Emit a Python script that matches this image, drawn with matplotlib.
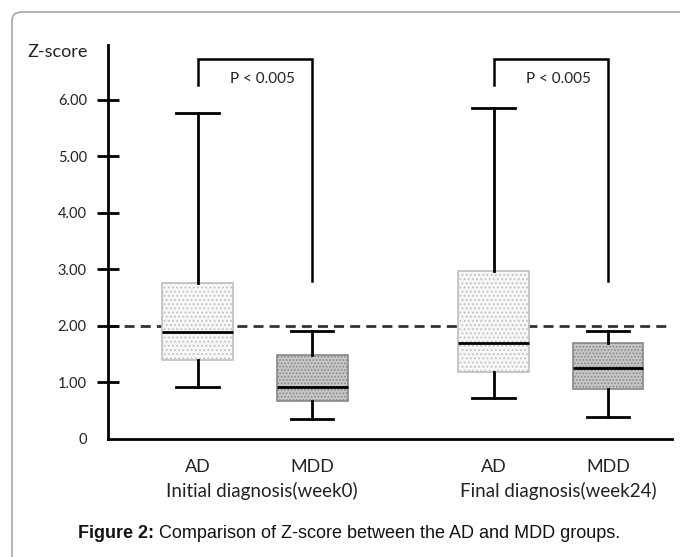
import matplotlib
matplotlib.use("Agg")
import matplotlib.pyplot as plt
from matplotlib.patches import FancyBboxPatch

# ---- data ----
groups = ["AD", "MDD", "AD", "MDD"]
phases = ["Initial diagnosis(week0)", "Final diagnosis(week24)"]
whislo = [0.92, 0.35, 0.72, 0.39]
q1 = [1.40, 0.67, 1.19, 0.88]
med = [1.89, 0.92, 1.70, 1.25]
q3 = [2.76, 1.49, 2.97, 1.70]
whishi = [5.77, 1.91, 5.86, 1.91]
cutoff = 2.0
p_text = "P < 0.005"
bracket_low, bracket_top, bracket_end = 6.27, 6.73, 2.80
ytick_vals = [0, 1, 2, 3, 4, 5, 6]
ytick_labels = ["0", "1.00", "2.00", "3.00", "4.00", "5.00", "6.00"]
caption_bold = "Figure 2:"
caption_rest = " Comparison of Z-score between the AD and MDD groups."

positions = [1.0, 2.0, 3.585, 4.585]
fills = ["#f7f7f7", "#c6c6c6", "#f7f7f7", "#c6c6c6"]
hatch_cols = ["#c0c0c0", "#888888", "#c0c0c0", "#888888"]

font = "Lato"
tcol = "#222222"
plt.rcParams["hatch.linewidth"] = 0.8

fig = plt.figure(figsize=(6.8, 5.57), dpi=100)
ax = fig.add_axes([108/680, 1-439/557, (672-108)/680, (439-45)/557])

stats = []
for i in range(4):
    stats.append(dict(whislo=whislo[i], q1=q1[i], med=med[i], q3=q3[i],
                      whishi=whishi[i], fliers=[], label=groups[i]))

bp = ax.bxp(stats, positions=positions, widths=0.62, patch_artist=True,
            showfliers=False, capwidths=0.37,
            medianprops=dict(color="black", linewidth=2),
            whiskerprops=dict(color="black", linewidth=2),
            capprops=dict(color="black", linewidth=2),
            boxprops=dict(linewidth=1.2))
for i, b in enumerate(bp["boxes"]):
    b.set_facecolor(fills[i])
    b.set_edgecolor(hatch_cols[i])
    b.set_hatch("....." if i % 2 else "....")
    b.set_linewidth(1.2)

# cutoff line
ax.axhline(cutoff, color="#333333", linewidth=2, dashes=(3.6, 2.2), zorder=1)

# significance brackets
for a, m in [(0, 1), (2, 3)]:
    xa, xm = positions[a], positions[m]
    ax.plot([xa, xa, xm, xm], [bracket_low, bracket_top, bracket_top, bracket_end],
            color="black", linewidth=1.8, solid_joinstyle="miter", clip_on=False)
    ax.text((xa + xm) / 2 + 0.07, 6.36, p_text, ha="center", va="center",
            fontsize=11, family=font, color=tcol)

ax.set_xlim(0.218, 5.144)
ax.set_ylim(0, 6.97)

for s in ["top", "right"]:
    ax.spines[s].set_visible(False)
for s in ["left", "bottom"]:
    ax.spines[s].set_linewidth(2)
    ax.spines[s].set_color("black")

ax.set_yticks(ytick_vals)
ax.set_yticklabels(ytick_labels, family=font, fontsize=10.5, color=tcol)
ax.tick_params(axis="y", direction="inout", length=16.5, width=2, pad=7)
ax.yaxis.get_major_ticks()[0].tick1line.set_visible(False)
ax.set_xticks([])

# group labels
for i, g in enumerate(groups):
    ax.text(positions[i], -0.50, g, ha="center", va="center",
            fontsize=13, family=font, color=tcol)
ax.text((positions[0] + positions[1]) / 2 + 0.065, -0.92, phases[0], ha="center",
        va="center", fontsize=13.5, family=font, color=tcol)
ax.text((positions[2] + positions[3]) / 2 + 0.07, -0.92, phases[1], ha="center",
        va="center", fontsize=13.5, family=font, color=tcol)

fig.text(58/680, 1-52/557, "Z-score", ha="center", va="center",
         fontsize=13, family=font, color=tcol)

# caption (bold lead + regular rest), centred as a whole
r = fig.canvas.get_renderer()
cy = 1 - 533/557
t1 = fig.text(0, cy, caption_bold, ha="left", va="center", fontsize=13,
              family="Liberation Sans", weight="bold", color="#111111")
t2 = fig.text(0, cy, caption_rest, ha="left", va="center", fontsize=13,
              family="Liberation Sans", color="#111111")
w1 = t1.get_window_extent(r).width
w2 = t2.get_window_extent(r).width
x0 = 349 - (w1 + w2) / 2
t1.set_x(x0 / 680)
t2.set_x((x0 + w1) / 680)

# frame
frame = FancyBboxPatch((12/680, -0.1), 1.2, 1 - 12/557 + 0.1,
                       boxstyle="round,pad=0,rounding_size=0.015",
                       transform=fig.transFigure, facecolor="none",
                       edgecolor="#a8a8a8", linewidth=1.2, clip_on=False)
fig.patches.append(frame)

fig.savefig("out.png", dpi=100)
